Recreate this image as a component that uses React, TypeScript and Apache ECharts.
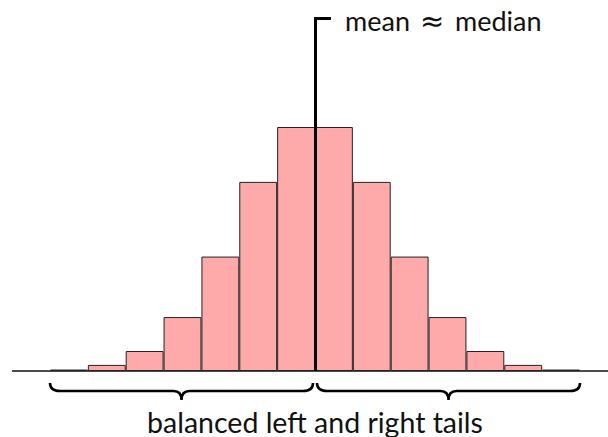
import React, { useEffect, useRef } from "react";
import * as echarts from "echarts";

const bins = ["-6.5", "-5.5", "-4.5", "-3.5", "-2.5", "-1.5", "-0.5", "0.5", "1.5", "2.5", "3.5", "4.5", "5.5", "6.5"];
const counts = [0.6, 2.5, 8.2, 22.1, 46.9, 77.5, 100, 100, 77.5, 46.9, 22.1, 8.2, 2.5, 0.6];
const meanWord = "mean";
const approxSign = "\u2248";
const medianWord = "median";
const tailLabel = "balanced left and right tails";

const FONT = "Lato, 'Open Sans', sans-serif";

let registered = false;
function registerBrace() {
  if (registered) return;
  registered = true;
  const d =
    "M0,0 Q0,8 10,8 L123.5,8 Q131.5,8 131.5,17 Q131.5,8 139.5,8 L253,8 Q263,8 263,0";
  echarts.graphic.registerShape("brace", echarts.graphic.extendPath(d, {}) as any);
}

export default function App() {
  const ref = useRef<HTMLDivElement>(null);
  useEffect(() => {
    if (!ref.current) return;
    document.body.style.margin = "0";
    registerBrace();
    const chart = echarts.init(ref.current, null, { renderer: "svg" });
    const textStyle = (text: string, font: string, align: string) => ({
      text,
      font,
      fill: "#111",
      textAlign: align,
      textVerticalAlign: "middle",
    });
    chart.setOption({
      animation: false,
      grid: { left: 50, right: 28, top: 127, bottom: 66 },
      xAxis: {
        type: "category",
        data: bins,
        axisLine: { show: false },
        axisTick: { show: false },
        axisLabel: { show: false },
        splitLine: { show: false },
      },
      yAxis: {
        type: "value",
        min: 0,
        max: 100,
        show: false,
        splitLine: { show: false },
      },
      series: [
        {
          type: "bar",
          data: counts,
          barCategoryGap: "0%",
          itemStyle: { color: "#ffaaaa", borderColor: "#222", borderWidth: 1 },
          silent: true,
        },
      ],
      graphic: [
        {
          type: "line",
          shape: { x1: 12, y1: 371, x2: 608, y2: 371 },
          style: { stroke: "#111", lineWidth: 1.3 },
          z: 1,
        },
        {
          type: "polyline",
          shape: { points: [[315.5, 371], [315.5, 18.5], [331, 18.5]] },
          style: { stroke: "#000", lineWidth: 3, fill: "none" },
          z: 10,
        },
        { type: "text", x: 345, y: 20.5, style: textStyle(meanWord, `27px ${FONT}`, "left"), z: 10 },
        { type: "text", x: 420, y: 20.5, style: textStyle(approxSign, `29px 'DejaVu Sans', sans-serif`, "left"), z: 10 },
        { type: "text", x: 455, y: 20.5, style: textStyle(medianWord, `27px ${FONT}`, "left"), z: 10 },
        {
          type: "brace",
          x: 50,
          y: 383,
          style: { stroke: "#000", lineWidth: 2.6, fill: "none" },
          z: 10,
        },
        {
          type: "brace",
          x: 317,
          y: 383,
          style: { stroke: "#000", lineWidth: 2.6, fill: "none" },
          z: 10,
        },
        { type: "text", x: 315, y: 421.5, style: textStyle(tailLabel, `28.5px ${FONT}`, "center"), z: 10 },
      ],
    });
    return () => chart.dispose();
  }, []);
  return <div ref={ref} style={{ width: 608, height: 437 }} />;
}
